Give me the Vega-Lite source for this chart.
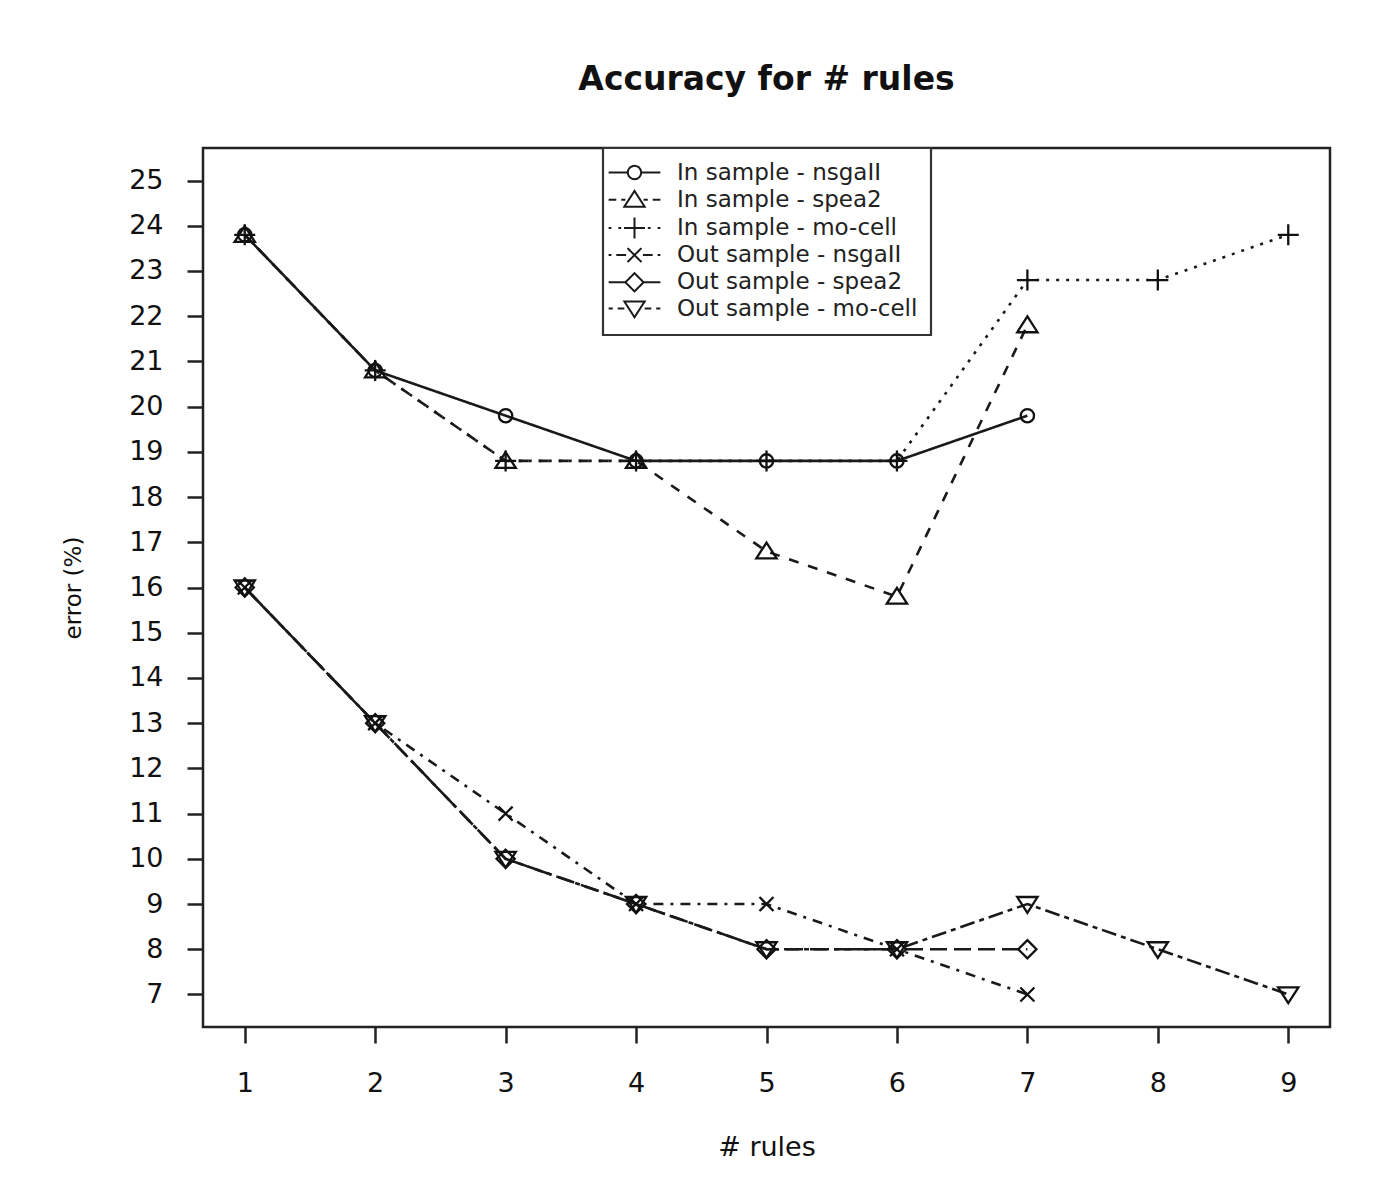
{
  "$schema": "https://vega.github.io/schema/vega-lite/v6.json",
  "autosize": {"type": "none"},
  "width": 1127,
  "height": 879,
  "padding": {"left": 203, "top": 148, "right": 70, "bottom": 154},
  "background": "white",
  "title": {"text": "Accuracy for # rules", "font": "DejaVu Sans", "fontSize": 33, "fontWeight": "bold", "anchor": "middle", "frame": "group", "baseline": "alphabetic", "offset": 24, "color": "#111"},
  "data": {"values": [
    {"rules": 1, "error": 23.8, "series": "In sample - nsgaII"},
    {"rules": 2, "error": 20.8, "series": "In sample - nsgaII"},
    {"rules": 3, "error": 19.8, "series": "In sample - nsgaII"},
    {"rules": 4, "error": 18.8, "series": "In sample - nsgaII"},
    {"rules": 5, "error": 18.8, "series": "In sample - nsgaII"},
    {"rules": 6, "error": 18.8, "series": "In sample - nsgaII"},
    {"rules": 7, "error": 19.8, "series": "In sample - nsgaII"},
    {"rules": 1, "error": 23.8, "series": "In sample - spea2"},
    {"rules": 2, "error": 20.8, "series": "In sample - spea2"},
    {"rules": 3, "error": 18.8, "series": "In sample - spea2"},
    {"rules": 4, "error": 18.8, "series": "In sample - spea2"},
    {"rules": 5, "error": 16.8, "series": "In sample - spea2"},
    {"rules": 6, "error": 15.8, "series": "In sample - spea2"},
    {"rules": 7, "error": 21.8, "series": "In sample - spea2"},
    {"rules": 1, "error": 23.8, "series": "In sample - mo-cell"},
    {"rules": 2, "error": 20.8, "series": "In sample - mo-cell"},
    {"rules": 3, "error": 18.8, "series": "In sample - mo-cell"},
    {"rules": 4, "error": 18.8, "series": "In sample - mo-cell"},
    {"rules": 5, "error": 18.8, "series": "In sample - mo-cell"},
    {"rules": 6, "error": 18.8, "series": "In sample - mo-cell"},
    {"rules": 7, "error": 22.8, "series": "In sample - mo-cell"},
    {"rules": 8, "error": 22.8, "series": "In sample - mo-cell"},
    {"rules": 9, "error": 23.8, "series": "In sample - mo-cell"},
    {"rules": 1, "error": 16, "series": "Out sample - nsgaII"},
    {"rules": 2, "error": 13, "series": "Out sample - nsgaII"},
    {"rules": 3, "error": 11, "series": "Out sample - nsgaII"},
    {"rules": 4, "error": 9, "series": "Out sample - nsgaII"},
    {"rules": 5, "error": 9, "series": "Out sample - nsgaII"},
    {"rules": 6, "error": 8, "series": "Out sample - nsgaII"},
    {"rules": 7, "error": 7, "series": "Out sample - nsgaII"},
    {"rules": 1, "error": 16, "series": "Out sample - spea2"},
    {"rules": 2, "error": 13, "series": "Out sample - spea2"},
    {"rules": 3, "error": 10, "series": "Out sample - spea2"},
    {"rules": 4, "error": 9, "series": "Out sample - spea2"},
    {"rules": 5, "error": 8, "series": "Out sample - spea2"},
    {"rules": 6, "error": 8, "series": "Out sample - spea2"},
    {"rules": 7, "error": 8, "series": "Out sample - spea2"},
    {"rules": 1, "error": 16, "series": "Out sample - mo-cell"},
    {"rules": 2, "error": 13, "series": "Out sample - mo-cell"},
    {"rules": 3, "error": 10, "series": "Out sample - mo-cell"},
    {"rules": 4, "error": 9, "series": "Out sample - mo-cell"},
    {"rules": 5, "error": 8, "series": "Out sample - mo-cell"},
    {"rules": 6, "error": 8, "series": "Out sample - mo-cell"},
    {"rules": 7, "error": 9, "series": "Out sample - mo-cell"},
    {"rules": 8, "error": 8, "series": "Out sample - mo-cell"},
    {"rules": 9, "error": 7, "series": "Out sample - mo-cell"}
  ]},
  "encoding": {
    "x": {"field": "rules", "type": "quantitative", "title": "# rules",
      "scale": {"domain": [0.68, 9.32], "nice": false, "zero": false},
      "axis": {"values": [1, 2, 3, 4, 5, 6, 7, 8, 9]}},
    "y": {"field": "error", "type": "quantitative", "title": "error (%)",
      "scale": {"domain": [6.28, 25.72], "nice": false, "zero": false},
      "axis": {"values": [7, 8, 9, 10, 11, 12, 13, 14, 15, 16, 17, 18, 19, 20, 21, 22, 23, 24, 25]}}
  },
  "layer": [
    {
      "mark": {"type": "line", "strokeWidth": 2.6},
      "encoding": {
        "strokeDash": {"field": "series", "type": "nominal", "legend": null,
          "scale": {"range": [[3, 7], [1, 0], [10, 10], [5, 5, 15, 5], [3, 7, 10, 7], [17, 7]]}},
        "color": {"field": "series", "type": "nominal",
          "scale": {"domain": ["In sample - nsgaII", "In sample - spea2", "In sample - mo-cell", "Out sample - nsgaII", "Out sample - spea2", "Out sample - mo-cell"],
            "range": ["#1a1a1a", "#1a1a1a", "#1a1a1a", "#1a1a1a", "#1a1a1a", "#1a1a1a"]},
          "legend": {
            "title": null,
            "orient": "none",
            "legendX": 400,
            "legendY": 0,
            "padding": 13,
            "strokeColor": "#333",
            "fillColor": "white",
            "symbolSize": 196,
            "symbolStrokeWidth": 2,
            "symbolOffset": 7,
            "labelOffset": 31,
            "rowPadding": 1.2,
            "labelLimit": 500,
            "labelFont": "DejaVu Sans",
            "labelFontSize": 23,
            "labelColor": "#222",
            "encode": {
              "legend": {"update": {"strokeWidth": {"value": 2.2}}},
              "symbols": {"update": {
                "size": {"value": 196},
                "strokeWidth": {"value": 2},
                "strokeDash": {"value": [1, 0]},
                "fill": {"value": "transparent"},
                "shape": {"signal": "datum.value === 'In sample - nsgaII' ? 'M-3.7,0H-0.95M0.95,0H3.7M0.95,0A0.95,0.95,0,1,1,-0.95,0A0.95,0.95,0,1,1,0.95,0' : datum.value === 'In sample - spea2' ? 'M-3.7,0H-2.6M-1.9,0H-1.3M1.3,0H1.9M2.6,0H3.7M0,-1.25L1.45,1L-1.45,1Z' : datum.value === 'In sample - mo-cell' ? 'M-3.7,0H-3.3M-2.3,0H-1.9M1.9,0H2.3M3.3,0H3.7M-1.5,0H1.5M0,-1.5V1.5' : datum.value === 'Out sample - nsgaII' ? 'M-3.7,0H-3.3M-2.6,0H-1.2M1.2,0H2.6M3.3,0H3.7M-1,-1L1,1M-1,1L1,-1' : datum.value === 'Out sample - spea2' ? 'M-3.7,0H-1.3M1.3,0H3.7M0,-1.3L1.3,0L0,1.3L-1.3,0Z' : 'M-3.7,0H-3.1M-2.4,0H-1.45M1.45,0H2.4M3.1,0H3.7M0,1.25L1.45,-1L-1.45,-1Z'"}
              }}
            }
          }
        }
      }
    },
    {
      "mark": {"type": "point", "filled": false, "color": "#111", "strokeWidth": 2.3, "size": 196, "opacity": 1},
      "encoding": {
        "shape": {"field": "series", "type": "nominal", "legend": null,
          "scale": {"range": [
              "M-1.5,0H1.5M0,-1.5V1.5",
              "M0.95,0A0.95,0.95,0,1,1,-0.95,0A0.95,0.95,0,1,1,0.95,0",
              "M0,-1.25L1.45,1L-1.45,1Z",
              "M0,1.25L1.45,-1L-1.45,-1Z",
              "M-1,-1L1,1M-1,1L1,-1",
              "M0,-1.3L1.3,0L0,1.3L-1.3,0Z"
            ]}
        }
      }
    }
  ],
  "config": {
    "view": {"stroke": "#222", "strokeWidth": 2.5, "fill": "white"},
    "axis": {"grid": false, "domain": false, "tickSize": 16, "tickWidth": 2.5, "tickColor": "#222",
      "labelFont": "DejaVu Sans", "labelFontSize": 27, "labelColor": "#111", "labelOverlap": false, "labelFlush": false,
      "titleFont": "DejaVu Sans", "titleFontWeight": "normal", "titleColor": "#111"},
    "axisX": {"labelPadding": 27, "titleFontSize": 27, "titlePadding": 38},
    "axisY": {"labelPadding": 24, "titleFontSize": 23, "titlePadding": 43}
  }
}
